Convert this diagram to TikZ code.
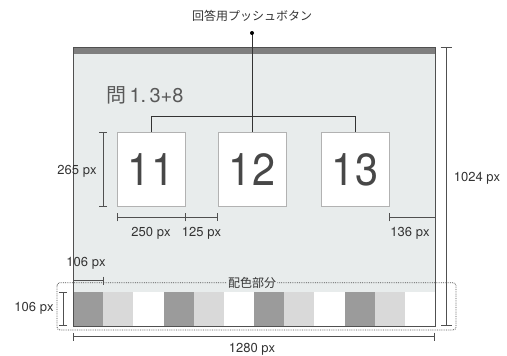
\documentclass[tikz,border=0pt]{standalone}
\usepackage{fontspec}
\setmainfont{TeX Gyre Heros}
\newfontfamily\jp{Noto Sans CJK JP}
\usetikzlibrary{arrows.meta}
\definecolor{scr}{HTML}{E8ECEC}
\definecolor{bar}{HTML}{7F7F7F}
\definecolor{edge}{HTML}{505050}
\definecolor{txt}{HTML}{333333}
\definecolor{cdark}{HTML}{9B9B9B}
\definecolor{clight}{HTML}{D9D9D9}
\tikzset{
  dimline/.style={draw=edge, line width=0.7pt, {Bar[width=8pt]}-{Bar[width=8pt]}},
  dimlabel/.style={text=txt, font=\fontsize{13}{15}\selectfont, inner sep=1pt},
  btn/.style={draw=black!30, fill=white, line width=0.7pt, minimum width=68pt, minimum height=74.5pt, inner sep=0pt, text=black!72, font=\fontsize{45}{48}\selectfont},
  wire/.style={draw=black!80, line width=0.7pt},
  jplabel/.style={text=txt, font=\jp\fontsize{12}{14}\selectfont, inner sep=1pt},
}
\begin{document}
\begin{tikzpicture}[x=1pt,y=-1pt]
\useasboundingbox (0,0) rectangle (507,356);
% screen
\fill[scr] (73,47) rectangle (435,326);
\fill[bar] (73,47) rectangle (435,54);
% colour strip
\foreach \i in {0,1,2,3}{
  \fill[cdark] (73+\i*90.5,292.3) rectangle (103.2+\i*90.5,326);
  \fill[clight] (103.2+\i*90.5,292.3) rectangle (133.3+\i*90.5,326);
  \fill[white] (133.3+\i*90.5,292.3) rectangle (163.5+\i*90.5,326);
}
\draw[edge, line width=0.9pt] (73,47) rectangle (435,326);
% title
\node[anchor=west, text=black!65, inner sep=0pt, font=\fontsize{20}{22}\selectfont] (title) at (106,95) {{\jp 問}\,1.\,3+8};
% buttons
\node[btn] (b1) at (151,169.5) {\scalebox{0.92}[1]{11}};
\node[btn] (b2) at (252,169.5) {\scalebox{0.92}[1]{12}};
\node[btn] (b3) at (355,169.5) {\scalebox{0.92}[1]{13}};
% connectors
\coordinate (dot) at (252,33);
\coordinate (hub) at (252,116);
\draw[wire] (b1.north) -- (b1.north |- hub) -- (b3.north |- hub) -- (b3.north);
\draw[wire] (dot) -- (b2.north);
\fill[black] (dot) circle (2pt);
\node[jplabel] (plabel) at (252,16) {回答用プッシュボタン};
% dimensions
\draw[dimline] (103,132.3) -- (103,206.7);
\node[dimlabel] (d265) at (77,171) {265 px};
\draw[dimline] (b1.south west |- 0,217.3) -- (b1.south east |- 0,217.3);
\draw[dimline] (b1.south east |- 0,217.3) -- (b2.south west |- 0,217.3);
\node[dimlabel] (d250) at (151,233) {250 px};
\node[dimlabel] (d125) at (201.5,233) {125 px};
\draw[draw=edge, line width=0.7pt, {Bar[width=8pt]}-] (b3.south east |- 0,217.3) -- (435,217.3);
\node[dimlabel] (d136) at (410,233) {136 px};
\draw[dimline, {Bar[width=11pt]}-{Bar[width=11pt]}] (446,47) -- (446,326);
\node[dimlabel] (d1024) at (477,178) {1024 px};
\draw[dimline] (73,280.7) -- (103.2,280.7);
\node[dimlabel] (d106a) at (86,263) {106 px};
\draw[dimline] (63,292.3) -- (63,326);
\node[dimlabel] (d106b) at (34,308) {106 px};
\draw[dimline] (73,336.7) -- (435,336.7);
\node[dimlabel] (d1280) at (252,349) {1280 px};
% colour region
\draw[densely dotted, draw=edge, line width=0.8pt, rounded corners=3pt] (57,282.7) rectangle (456,330);
\node[jplabel, fill=scr] (region) at (252,283) {配色部分};
\end{tikzpicture}
\end{document}
